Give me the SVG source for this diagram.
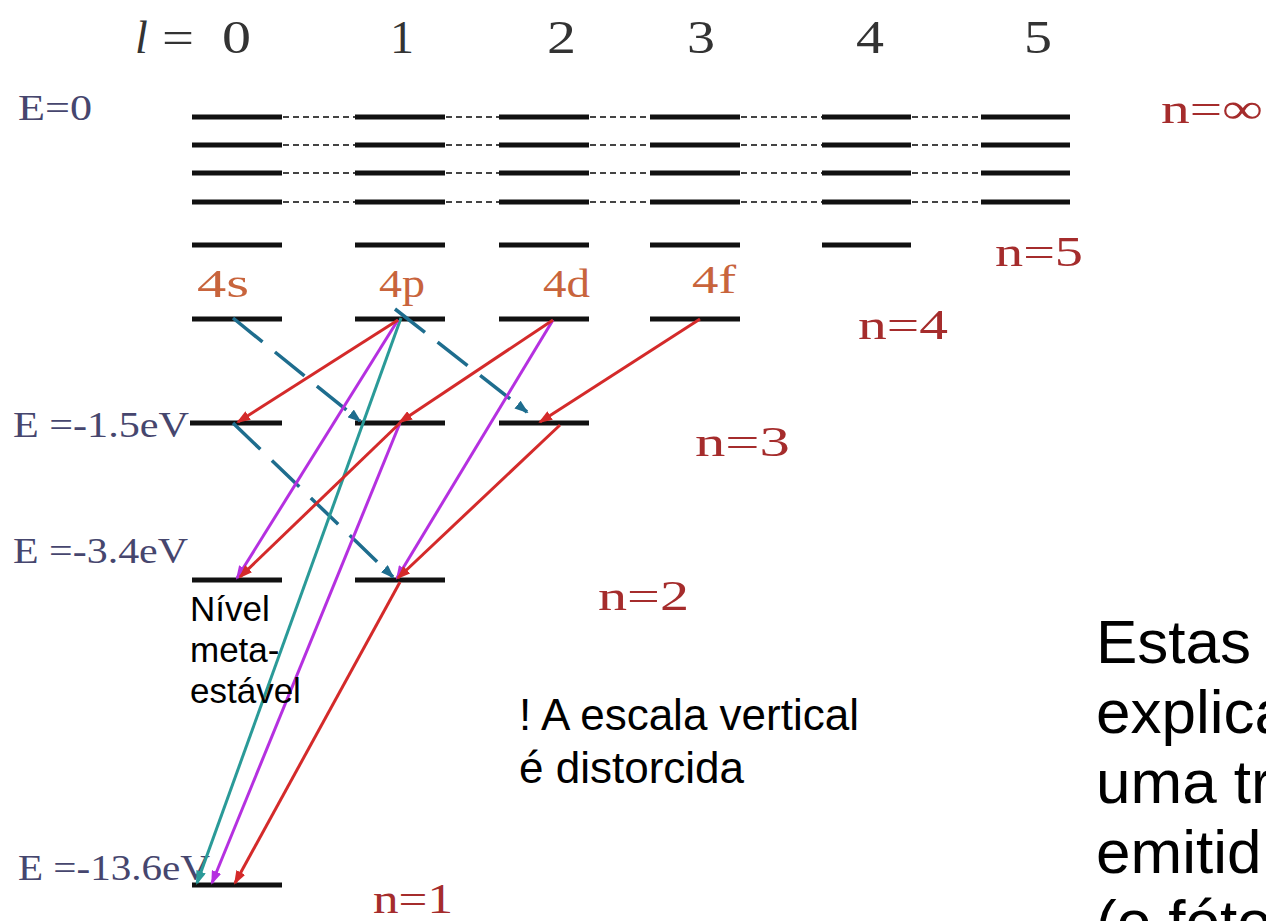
<svg xmlns="http://www.w3.org/2000/svg" width="1266" height="921" viewBox="0 0 1266 921">
<style>
.lvl{stroke:#111;stroke-width:5;fill:none}
.dot{stroke:#444;stroke-width:2;stroke-dasharray:6 4;fill:none}
.serif{font-family:"Liberation Serif","Times New Roman",serif}
.sans{font-family:"Liberation Sans",Arial,sans-serif;fill:#000}
.top{font-size:46px;fill:#333}
.elab{font-size:35px;fill:#46466e}
.sub{font-size:40px;fill:#c8643c}
.nlab{font-size:43px;fill:#a52c2c}
.red{stroke:#d42a2a;stroke-width:3;fill:none;marker-end:url(#ar)}
.pur{stroke:#b530e0;stroke-width:3;fill:none;marker-end:url(#ap)}
.teal{stroke:#2a9a98;stroke-width:3;fill:none;marker-end:url(#at)}
.dash{stroke:#1e6d8e;stroke-width:3.5;stroke-dasharray:38 16;fill:none;marker-end:url(#ad)}
</style>
<defs>
<marker id="ar" markerWidth="14" markerHeight="10" refX="12" refY="5" orient="auto" markerUnits="userSpaceOnUse"><path d="M0,0 L14,5 L0,10 z" fill="#d42a2a"/></marker>
<marker id="ap" markerWidth="14" markerHeight="10" refX="12" refY="5" orient="auto" markerUnits="userSpaceOnUse"><path d="M0,0 L14,5 L0,10 z" fill="#b530e0"/></marker>
<marker id="at" markerWidth="14" markerHeight="10" refX="12" refY="5" orient="auto" markerUnits="userSpaceOnUse"><path d="M0,0 L14,5 L0,10 z" fill="#2a9a98"/></marker>
<marker id="ad" markerWidth="14" markerHeight="10" refX="12" refY="5" orient="auto" markerUnits="userSpaceOnUse"><path d="M0,0 L14,5 L0,10 z" fill="#1e6d8e"/></marker>
</defs>
<rect width="1266" height="921" fill="#fff"/>

<g id="header">
<text class="serif top" x="135" y="53" font-style="italic">l</text>
<text class="serif top" x="162" y="53" textLength="32" lengthAdjust="spacingAndGlyphs">=</text>
<text class="serif top" x="222" y="53" textLength="29" lengthAdjust="spacingAndGlyphs">0</text>
<text class="serif top" x="390" y="53" textLength="24" lengthAdjust="spacingAndGlyphs">1</text>
<text class="serif top" x="547" y="53" textLength="29" lengthAdjust="spacingAndGlyphs">2</text>
<text class="serif top" x="687" y="53" textLength="28" lengthAdjust="spacingAndGlyphs">3</text>
<text class="serif top" x="856" y="53" textLength="28" lengthAdjust="spacingAndGlyphs">4</text>
<text class="serif top" x="1024" y="53" textLength="28" lengthAdjust="spacingAndGlyphs">5</text>
</g>

<g id="energy-labels">
<text class="serif elab" x="18" y="120" textLength="74" lengthAdjust="spacingAndGlyphs">E=0</text>
<text class="serif elab" x="13" y="437" textLength="176" lengthAdjust="spacingAndGlyphs">E =-1.5eV</text>
<text class="serif elab" x="13" y="563" textLength="175" lengthAdjust="spacingAndGlyphs">E =-3.4eV</text>
<text class="serif elab" x="18" y="880" textLength="192" lengthAdjust="spacingAndGlyphs">E =-13.6eV</text>
</g>

<g id="n-inf">
<path class="lvl" d="M192 117H282M355 117H445M499 117H589M650 117H740M822 117H911M981 117H1070"/>
<path class="lvl" d="M192 145H282M355 145H445M499 145H589M650 145H740M822 145H911M981 145H1070"/>
<path class="lvl" d="M192 173H282M355 173H445M499 173H589M650 173H740M822 173H911M981 173H1070"/>
<path class="lvl" d="M192 202H282M355 202H445M499 202H589M650 202H740M822 202H911M981 202H1070"/>
<path class="dot" d="M283 117H355M446 117H499M590 117H650M741 117H822M912 117H981"/>
<path class="dot" d="M283 145H355M446 145H499M590 145H650M741 145H822M912 145H981"/>
<path class="dot" d="M283 173H355M446 173H499M590 173H650M741 173H822M912 173H981"/>
<path class="dot" d="M283 202H355M446 202H499M590 202H650M741 202H822M912 202H981"/>
<text class="serif nlab" x="1161" y="123" textLength="102" lengthAdjust="spacingAndGlyphs">n=∞</text>
</g>

<g id="n5">
<path class="lvl" d="M192 245H282M355 245H445M499 245H589M650 245H740M822 245H911"/>
<text class="serif nlab" x="995" y="266" textLength="88" lengthAdjust="spacingAndGlyphs">n=5</text>
</g>

<g id="n4">
<path class="lvl" d="M192 319H282M355 319H445M499 319H589M650 319H740"/>
<text class="serif sub" x="197" y="297" textLength="52" lengthAdjust="spacingAndGlyphs">4s</text>
<text class="serif sub" x="379" y="297" textLength="46" lengthAdjust="spacingAndGlyphs">4p</text>
<text class="serif sub" x="543" y="297" textLength="47" lengthAdjust="spacingAndGlyphs">4d</text>
<text class="serif sub" x="692" y="293" textLength="44" lengthAdjust="spacingAndGlyphs">4f</text>
<text class="serif nlab" x="858" y="339" textLength="90" lengthAdjust="spacingAndGlyphs">n=4</text>
</g>

<g id="n3">
<path class="lvl" d="M190 423H282M355 423H445M499 423H589"/>
<text class="serif nlab" x="695" y="456" textLength="95" lengthAdjust="spacingAndGlyphs">n=3</text>
</g>

<g id="n2">
<path class="lvl" d="M192 580H282M355 580H445"/>
<text class="serif nlab" x="598" y="610" textLength="91" lengthAdjust="spacingAndGlyphs">n=2</text>
</g>

<g id="n1">
<path class="lvl" d="M192 885H282"/>
<text class="serif nlab" x="373" y="913" textLength="80" lengthAdjust="spacingAndGlyphs">n=1</text>
</g>

<g id="connectors">
<line class="dash" x1="233" y1="318" x2="360" y2="421"/>
<line class="dash" x1="395" y1="309" x2="527" y2="412"/>
<line class="dash" x1="233" y1="423" x2="393" y2="577"/>
<line class="teal" x1="401" y1="318" x2="197" y2="883"/>
<line class="pur" x1="398" y1="320" x2="237" y2="578"/>
<line class="pur" x1="553" y1="320" x2="397" y2="578"/>
<line class="pur" x1="400" y1="423" x2="212" y2="883"/>
<line class="red" x1="398" y1="320" x2="238" y2="422"/>
<line class="red" x1="553" y1="320" x2="400" y2="422"/>
<line class="red" x1="700" y1="319" x2="540" y2="422"/>
<line class="red" x1="400" y1="423" x2="240" y2="577"/>
<line class="red" x1="560" y1="425" x2="398" y2="578"/>
<line class="red" x1="400" y1="582" x2="235" y2="883"/>
</g>

<g id="notes">
<text class="sans" font-size="35" x="190" y="621">Nível</text>
<text class="sans" font-size="35" x="190" y="662">meta-</text>
<text class="sans" font-size="35" x="190" y="703">estável</text>
<text class="sans" font-size="44" x="519" y="730">! A escala vertical</text>
<text class="sans" font-size="44" x="519" y="783">é distorcida</text>
<text class="sans" font-size="62" x="1096" y="663">Estas</text>
<text class="sans" font-size="62" x="1096" y="733">explica</text>
<text class="sans" font-size="62" x="1096" y="803">uma tr</text>
<text class="sans" font-size="62" x="1096" y="873">emitid</text>
<text class="sans" font-size="62" x="1096" y="943">(o fóto</text>
</g>
</svg>
